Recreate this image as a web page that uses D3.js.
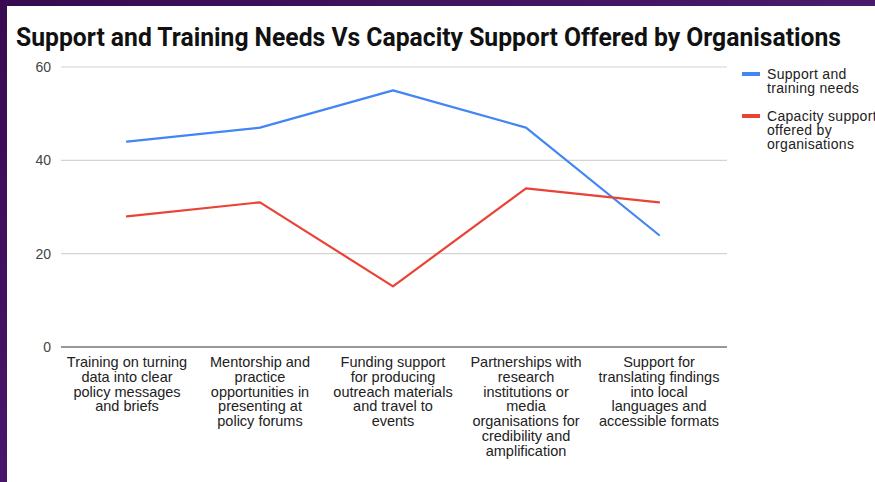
<!DOCTYPE html>
<html>
<head>
<meta charset="utf-8">
<script src="https://cdn.jsdelivr.net/npm/d3@7"></script>
<style>
  html, body { margin: 0; padding: 0; background: #fff; }
  svg { display: block; }
</style>
</head>
<body>
<svg id="chart" width="875" height="482"></svg>
<script>
// Chart content
const title = "Support and Training Needs Vs Capacity Support Offered by Organisations";
const categories = [
  "Training on turning\ndata into clear\npolicy messages\nand briefs",
  "Mentorship and\npractice\nopportunities in\npresenting at\npolicy forums",
  "Funding support\nfor producing\noutreach materials\nand travel to\nevents",
  "Partnerships with\nresearch\ninstitutions or\nmedia\norganisations for\ncredibility and\namplification",
  "Support for\ntranslating findings\ninto local\nlanguages and\naccessible formats"
];
const supportNeeds = [44, 47, 55, 47, 24];
const capacityOffered = [28, 31, 13, 34, 31];
const yTicks = [0, 20, 40, 60];
const seriesNames = [
  "Support and\ntraining needs",
  "Capacity support\noffered by\norganisations"
];
const seriesColors = ["#4285f4", "#ea4335"];

const svg = d3.select("#chart");
const W = 875, H = 482;

// Dark frame along the top and left edges
const defs = svg.append("defs");
const grad = defs.append("linearGradient").attr("id", "frame").attr("x1", 0).attr("x2", 1).attr("y1", 0).attr("y2", 0);
grad.append("stop").attr("offset", "0%").attr("stop-color", "#380a50");
grad.append("stop").attr("offset", "100%").attr("stop-color", "#4a1a6c");
const gradV = defs.append("linearGradient").attr("id", "frameV").attr("x1", 0).attr("x2", 0).attr("y1", 0).attr("y2", 1);
gradV.append("stop").attr("offset", "0%").attr("stop-color", "#380a50");
gradV.append("stop").attr("offset", "100%").attr("stop-color", "#47166a");

svg.append("rect").attr("x", 0).attr("y", 0).attr("width", W).attr("height", H).attr("fill", "#fff");
svg.append("rect").attr("x", 0).attr("y", 0).attr("width", W).attr("height", 6).attr("fill", "url(#frame)");
svg.append("rect").attr("x", 0).attr("y", 0).attr("width", 7).attr("height", H).attr("fill", "url(#frameV)");

// Title
svg.append("text")
  .attr("x", 16).attr("y", 46)
  .attr("font-family", "Roboto, 'Liberation Sans', sans-serif")
  .attr("font-weight", 700)
  .attr("font-size", 25)
  .attr("fill", "#111")
  .attr("textLength", 825)
  .attr("lengthAdjust", "spacingAndGlyphs")
  .text(title);

// Scales
const x = d3.scalePoint().domain(d3.range(categories.length)).range([127, 659]);
const y = d3.scaleLinear().domain([0, 60]).range([347, 67]);
const xLeft = 61, xRight = 727;

// Gridlines
svg.append("g").selectAll("line")
  .data(yTicks.filter(t => t !== 0))
  .join("line")
  .attr("x1", xLeft).attr("x2", xRight)
  .attr("y1", d => y(d)).attr("y2", d => y(d))
  .attr("stroke", "#d4d4d4").attr("stroke-width", 1.2);

// Y axis labels
const yAxis = d3.axisLeft(y).tickValues(yTicks).tickSize(0).tickPadding(0);
const gy = svg.append("g").attr("transform", `translate(51,0)`).call(yAxis);
gy.select(".domain").remove();
gy.selectAll("text")
  .attr("font-family", "'Liberation Sans', Arial, sans-serif")
  .attr("font-size", 14)
  .attr("fill", "#444");

// Baseline at zero
svg.append("line")
  .attr("x1", xLeft).attr("x2", xRight)
  .attr("y1", y(0)).attr("y2", y(0))
  .attr("stroke", "#333").attr("stroke-width", 1.2);

// Category labels
const catG = svg.append("g")
  .attr("font-family", "'Liberation Sans', Arial, sans-serif")
  .attr("font-size", 14.5)
  .attr("fill", "#222")
  .attr("text-anchor", "middle");
categories.forEach((c, i) => {
  const t = catG.append("text").attr("x", x(i)).attr("y", 367);
  c.split("\n").forEach((line, j) => {
    t.append("tspan").attr("x", x(i)).attr("y", 367 + j * 14.8).text(line);
  });
});

// Lines
const lineGen = d3.line().x((d, i) => x(i)).y(d => y(d));
[supportNeeds, capacityOffered].forEach((vals, k) => {
  svg.append("path")
    .datum(vals)
    .attr("d", lineGen)
    .attr("fill", "none")
    .attr("stroke", seriesColors[k])
    .attr("stroke-width", 2.2)
    .attr("stroke-linejoin", "round")
    .attr("stroke-linecap", "round");
});

// Legend
const legendY = [74, 116];
const legG = svg.append("g")
  .attr("font-family", "'Liberation Sans', Arial, sans-serif")
  .attr("font-size", 14)
  .attr("letter-spacing", 0.3)
  .attr("fill", "#222");
seriesNames.forEach((name, k) => {
  legG.append("rect")
    .attr("x", 742).attr("y", legendY[k] - 2)
    .attr("width", 18).attr("height", 4)
    .attr("fill", seriesColors[k]);
  const t = legG.append("text");
  name.split("\n").forEach((line, j) => {
    t.append("tspan").attr("x", 767).attr("y", legendY[k] + 5 + j * 14.2).text(line);
  });
});
</script>
</body>
</html>
